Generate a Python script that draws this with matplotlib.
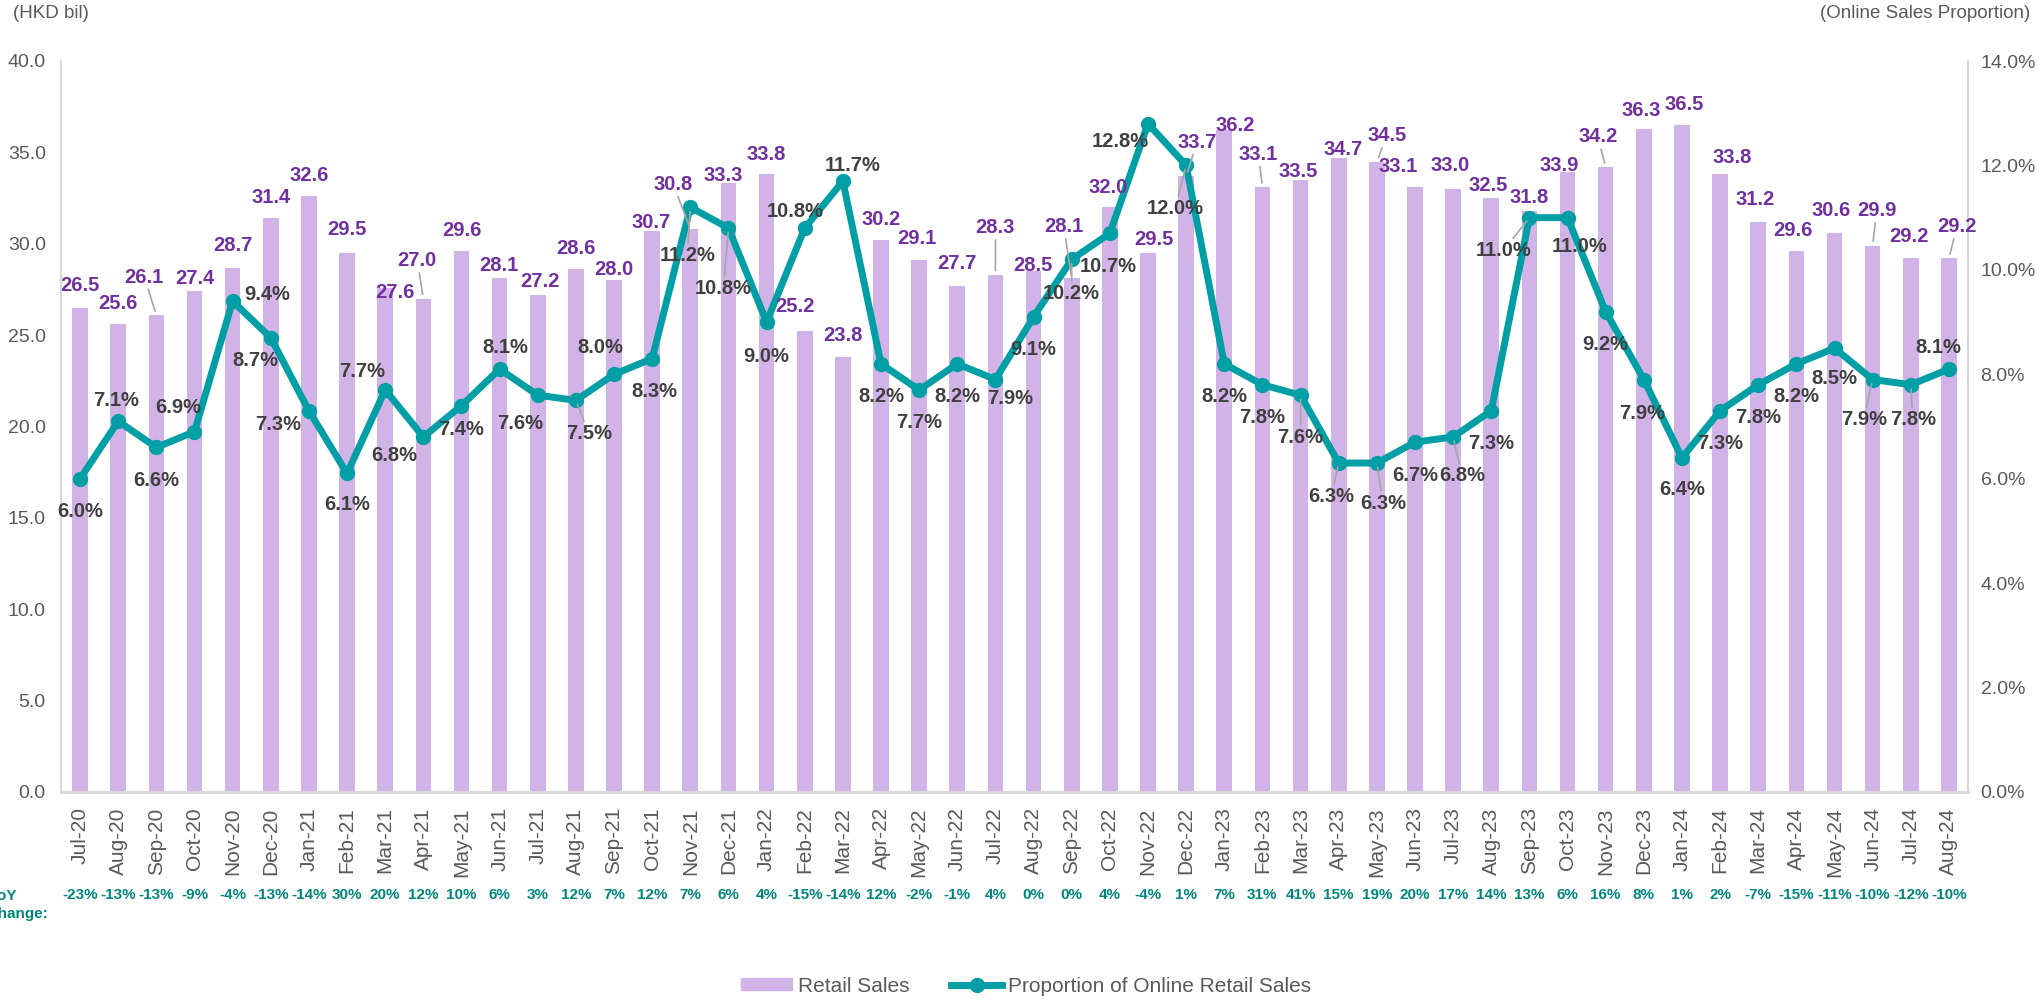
import matplotlib
matplotlib.use('Agg')
import matplotlib.pyplot as plt
import matplotlib.transforms as mtransforms
from matplotlib.patches import Patch
from matplotlib.lines import Line2D
import numpy as np

# Data
months = ['Jul-20', 'Aug-20', 'Sep-20', 'Oct-20', 'Nov-20', 'Dec-20',
          'Jan-21', 'Feb-21', 'Mar-21', 'Apr-21', 'May-21', 'Jun-21',
          'Jul-21', 'Aug-21', 'Sep-21', 'Oct-21', 'Nov-21', 'Dec-21',
          'Jan-22', 'Feb-22', 'Mar-22', 'Apr-22', 'May-22', 'Jun-22',
          'Jul-22', 'Aug-22', 'Sep-22', 'Oct-22', 'Nov-22', 'Dec-22',
          'Jan-23', 'Feb-23', 'Mar-23', 'Apr-23', 'May-23', 'Jun-23',
          'Jul-23', 'Aug-23', 'Sep-23', 'Oct-23', 'Nov-23', 'Dec-23',
          'Jan-24', 'Feb-24', 'Mar-24', 'Apr-24', 'May-24', 'Jun-24',
          'Jul-24', 'Aug-24']
retail_sales = [26.5, 25.6, 26.1, 27.4, 28.7, 31.4,
                32.6, 29.5, 27.6, 27.0, 29.6, 28.1,
                27.2, 28.6, 28.0, 30.7, 30.8, 33.3,
                33.8, 25.2, 23.8, 30.2, 29.1, 27.7,
                28.3, 28.5, 28.1, 32.0, 29.5, 33.7,
                36.2, 33.1, 33.5, 34.7, 34.5, 33.1,
                33.0, 32.5, 31.8, 33.9, 34.2, 36.3,
                36.5, 33.8, 31.2, 29.6, 30.6, 29.9,
                29.2, 29.2]
online_share = [6.0, 7.1, 6.6, 6.9, 9.4, 8.7,
                7.3, 6.1, 7.7, 6.8, 7.4, 8.1,
                7.6, 7.5, 8.0, 8.3, 11.2, 10.8,
                9.0, 10.8, 11.7, 8.2, 7.7, 8.2,
                7.9, 9.1, 10.2, 10.7, 12.8, 12.0,
                8.2, 7.8, 7.6, 6.3, 6.3, 6.7,
                6.8, 7.3, 11.0, 11.0, 9.2, 7.9,
                6.4, 7.3, 7.8, 8.2, 8.5, 7.9,
                7.8, 8.1]
yoy_change = [-23, -13, -13, -9, -4, -13,
              -14, 30, 20, 12, 10, 6,
              3, 12, 7, 12, 7, 6,
              4, -15, -14, 12, -2, -1,
              4, 0, 0, 4, -4, 1,
              7, 31, 41, 15, 19, 20,
              17, 14, 13, 6, 16, 8,
              1, 2, -7, -15, -11, -10,
              -12, -10]

# Label placement (pixel offsets from the anchor, x right / y up)
bar_label_offsets = [(0, 22), (0, 21), (-12, 38), (0, 13), (0, 22), (0, 21),
                     (0, 21), (0, 23), (10, -5), (-6, 38), (0, 21), (-1, 13),
                     (2, 13), (0, 21), (0, 11), (-1, 8), (-17, 45), (-5, 8),
                     (0, 20), (-10, 25), (0, 22), (0, 21), (-2, 22), (0, 22),
                     (0, 47), (-1, 6), (-8, 52), (-2, 20), (6, 13), (11, 34),
                     (11, 5), (-4, 33), (-2, 8), (4, 8), (10, 26), (-17, 21),
                     (-3, 23), (-3, 13), (0, 13), (-8, 7), (-8, 30), (-3, 18),
                     (2, 20), (12, 17), (-3, 22), (-3, 21), (-3, 22), (4, 35),
                     (-2, 22), (8, 32)]
bar_leaders = {2, 9, 16, 24, 26, 29, 31, 34, 40, 47, 49}

line_label_offsets = [(0, -33), (-2, 21), (0, -33), (-16, 24), (35, 7), (-15, -23),
                      (-31, -14), (0, -31), (-23, 18), (-29, -19), (0, -24), (6, 22),
                      (-18, -28), (13, -33), (-14, 27), (2, -33), (-3, -48), (-5, -60),
                      (0, -34), (-9, 17), (10, 16), (0, -33), (0, -33), (0, -33),
                      (15, -19), (0, -33), (0, -34), (-2, -33), (-28, -18), (-11, -43),
                      (0, -33), (0, -33), (0, -42), (-7, -33), (6, -40), (0, -33),
                      (9, -39), (0, -33), (-26, -33), (12, -29), (0, -33), (-2, -34),
                      (0, -32), (0, -33), (0, -33), (0, -33), (0, -30), (-9, -40),
                      (2, -35), (-11, 22)]
line_leaders = {13, 16, 17, 26, 29, 32, 33, 34, 36, 38, 47, 48}

BAR_COLOR = '#D1B3E8'
LINE_COLOR = '#009FA6'
BAR_TEXT = '#7030A0'
LINE_TEXT = '#404040'
YOY_COLOR = '#00857F'
AXIS_TEXT = '#595959'
SPINE = '#D9D9D9'

plt.rcParams['font.family'] = ['Liberation Sans', 'DejaVu Sans']

W, H = 2039, 999
fig = plt.figure(figsize=(W / 100, H / 100), dpi=100)
ax = fig.add_axes([61 / W, 1 - 792 / H, (1968 - 61) / W, (792 - 61) / H])

x = np.arange(len(months))
ax.bar(x, retail_sales, width=0.41, color=BAR_COLOR, zorder=1)
ax.set_xlim(-0.5, len(months) - 0.5)
ax.set_ylim(0, 40)
ax.set_yticks(np.arange(0, 40.1, 5))
ax.set_yticklabels([f'{v:.1f}' for v in np.arange(0, 40.1, 5)])
ax.set_xticks(x)
ax.set_xticklabels(months, rotation=90, fontsize=15, color=AXIS_TEXT)
ax.tick_params(axis='x', length=0, pad=11)
ax.tick_params(axis='y', length=0, pad=11, labelsize=14, labelcolor=AXIS_TEXT)

ax2 = ax.twinx()
ax2.plot(x, online_share, color=LINE_COLOR, lw=5, marker='o', ms=10, zorder=3)
ax2.set_ylim(0, 14)
ax2.set_yticks(np.arange(0, 14.1, 2))
ax2.set_yticklabels([f'{v:.1f}%' for v in np.arange(0, 14.1, 2)])
ax2.tick_params(axis='y', length=0, pad=9, labelsize=14, labelcolor=AXIS_TEXT)

for s in ['top', 'right']:
    ax.spines[s].set_visible(False)
ax.spines['left'].set_color(SPINE)
ax.spines['left'].set_linewidth(1.5)
ax.spines['bottom'].set_color(SPINE)
ax.spines['bottom'].set_linewidth(2.2)
for s in ['top', 'left', 'bottom']:
    ax2.spines[s].set_visible(False)
ax2.spines['right'].set_color(SPINE)
ax2.spines['right'].set_linewidth(1.5)

leader = dict(arrowstyle='-', color='#A6A6A6', lw=1.2, shrinkA=0, shrinkB=3)

# Retail sales labels
for i, v in enumerate(retail_sales):
    dx, dy = bar_label_offsets[i]
    ax2.annotate(f'{v:.1f}', xy=(i, v), xycoords=ax.transData,
                 xytext=(dx, dy), textcoords='offset pixels',
                 ha='center', va='center', fontsize=14.5, fontweight='bold',
                 color=BAR_TEXT, annotation_clip=False, zorder=5,
                 arrowprops=leader if i in bar_leaders else None)

# Online share labels
for i, v in enumerate(online_share):
    dx, dy = line_label_offsets[i]
    ax2.annotate(f'{v:.1f}%', xy=(i, v), xycoords='data',
                 xytext=(dx, dy), textcoords='offset pixels',
                 ha='center', va='center', fontsize=14.5, fontweight='bold',
                 color=LINE_TEXT, annotation_clip=False, zorder=5,
                 arrowprops=leader if i in line_leaders else None)

# YoY change row
trans = mtransforms.blended_transform_factory(ax.transData, ax.transAxes)
for i, v in enumerate(yoy_change):
    ax.text(i, (792 - 895) / 731, f'{v}%', transform=trans, ha='center',
            va='center', fontsize=11, fontweight='bold', color=YOY_COLOR)
fig.text(-11 / W, 1 - 905 / H, 'YoY\nchange:', ha='left', va='center',
         fontsize=11, fontweight='bold', color=YOY_COLOR, linespacing=1.3)

# Axis captions
fig.text(13 / W, 1 - 14 / H, '(HKD bil)', ha='left', va='center',
         fontsize=13.5, color=AXIS_TEXT)
fig.text(2030 / W, 1 - 14 / H, '(Online Sales Proportion)', ha='right',
         va='center', fontsize=13.5, color=AXIS_TEXT)

handles = [Patch(color=BAR_COLOR),
           Line2D([], [], color=LINE_COLOR, lw=5, marker='o', ms=10)]
fig.legend(handles, ['Retail Sales', 'Proportion of Online Retail Sales'],
           loc='center', bbox_to_anchor=(1026 / W, 1 - 986 / H), ncol=2,
           frameon=False, fontsize=15, handlelength=2.45, handleheight=0.5,
           columnspacing=2.0, handletextpad=0.3, labelcolor=AXIS_TEXT,
           borderpad=0)

fig.savefig('out.png', dpi=100)
